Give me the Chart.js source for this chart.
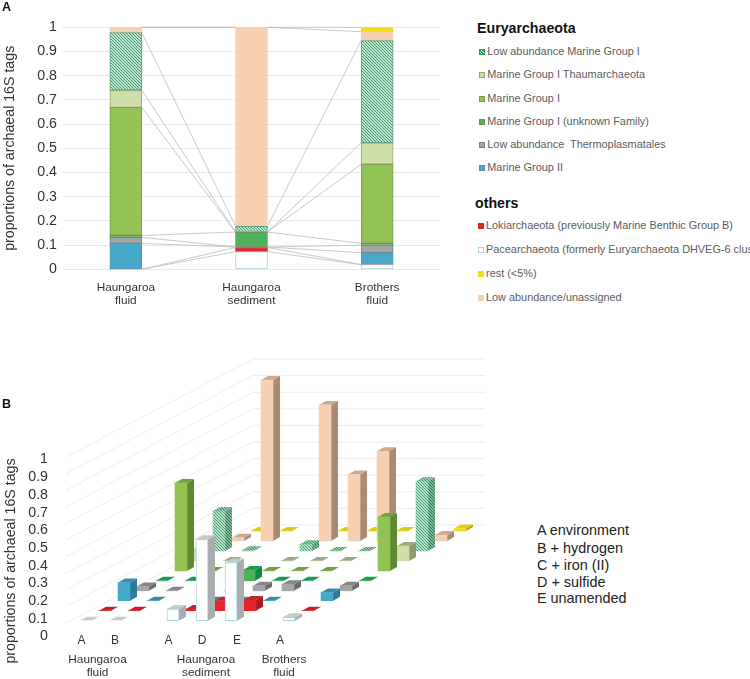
<!DOCTYPE html>
<html><head><meta charset="utf-8">
<style>
html,body{margin:0;padding:0;background:#fff;width:750px;height:679px;overflow:hidden;font-family:"Liberation Sans",Arial,sans-serif}
canvas{position:absolute;display:block}
.t{position:absolute;white-space:pre;line-height:1}
.h{font-weight:bold;font-size:14.2px;color:#111}
.li{font-size:10.9px;color:#5c5c5c}
.sw{position:absolute;width:6px;height:6px;box-sizing:border-box;border:1px solid}
.g{font-size:11.8px;color:#333;text-align:center;line-height:13.8px;transform:translateX(-50%)}
.k{font-size:14.4px;color:#222}
</style></head><body>
<canvas id="a" width="445" height="320" style="left:0;top:0"></canvas>
<canvas id="b" width="500" height="339" style="left:0;top:340px"></canvas>
<div id="ov"></div>
<script src="https://cdn.jsdelivr.net/npm/chart.js@4"></script>
<script>
// ---------- data ----------
const sitesA = [['Haungaroa','fluid'],['Haungaroa','sediment'],['Brothers','fluid']];
const seriesNames = ['Pacearchaeota (formerly Euryarchaeota DHVEG-6 cluster)','Lokiarchaeota (previously Marine Benthic Group B)','Marine Group II','Low abundance  Thermoplasmatales','Marine Group I (unknown Family)','Marine Group I','Marine Group I Thaumarchaeota','Low abundance Marine Group I','Low abundance/unassigned','rest (<5%)'];
// panel A, bottom to top of the stack
const aPace  = [0,    0.073,0.019];
const aLoki  = [0,    0.017,0.001];
const aMG2   = [0.107,0.002,0.049];
const aThermo= [0.025,0,    0.031];
const aUnk   = [0.008,0.062,0.007];
const aMG1   = [0.529,0,    0.327];
const aThaum = [0.071,0,    0.089];
const aLow   = [0.238,0.024,0.422];
const aPeach = [0.022,0.822,0.037];
const aRest  = [0,    0,    0.018];
// panel B: samples, then series front row to back row
const sampleLabels = ['A','B','A','D','E','A'];
const bPace  = [0,0,0.07,0.49,0.35,0.02];
const bLoki  = [0,0,0.01,0.06,0.065,0];
const bMG2   = [0.11,0,0,0,0,0.05];
const bThermo= [0.026,0,0,0.03,0.04,0.03];
const bUnk   = [0,0,0.065,0,0,0];
const bMG1   = [0.53,0,0,0,0,0.325];
const bThaum = [0.075,0,0,0,0,0.09];
const bLow   = [0.24,0.005,0.04,0,0,0.42];
const bPeach = [0.02,0.97,0.82,0.40,0.54,0.036];
const bRest  = [0,0,0,0,0,0.015];
const yTicks = [0,0.1,0.2,0.3,0.4,0.5,0.6,0.7,0.8,0.9,1];
const groupLabels = [['Haungaroa','fluid'],['Haungaroa','sediment'],['Brothers','fluid']];
const sampleNotes = ['A environment','B + hydrogen','C + iron (II)','D + sulfide','E unamended'];

// ---------- styles ----------
function hatch(fg,bg,n,w){
  const c=document.createElement('canvas');c.width=c.height=n;const x=c.getContext('2d');
  x.fillStyle=bg;x.fillRect(0,0,n,n);x.strokeStyle=fg;x.lineWidth=w;x.beginPath();
  x.moveTo(-1,-1);x.lineTo(n+1,n+1);x.moveTo(-1,n-1);x.lineTo(1,n+1);x.moveTo(n-1,-1);x.lineTo(n+1,1);x.stroke();
  return x.createPattern(c,'repeat');
}
const pat = hatch('#3a9e69','#ffffff',3,1.2);
const patB= hatch('#3fa572','#e4f2e8',3,1.1);
const patSide= hatch('#2c7a52','#a9cbb6',3,1.2);
const patTop = hatch('#3a8f63','#bfdcc9',3,1.2);
const front=['#ffffff','#e3262b','#46a9c9','#a6a6a6','#4fb35e','#93c354','#cfdfa9',pat,'#f7d0b2','#f2dc1d'];
const frontB=['#ffffff','#e3262b','#46a9c9','#a6a6a6','#4fb35e','#93c354','#cfdfa9',patB,'#f7d0b2','#f2dc1d'];
const edge=['#a9d5df','#d8262b','#5d93a6','#7b7b7b','#6f9150','#7c9b58','#94a67c','#5c9f7a','#f7d0b2','#f2dc1d'];
const side=['#a9adad','#ad1c20','#2f7a98','#6c6c6c','#0f8a45','#5e8a33','#8e9c70',patSide,'#a98b76','#b5a810'];
const topC=['#c3cccd','#c32227','#3b8aa8','#858585','#149c50','#71a03d','#9aa980',patTop,'#caa98e','#d9cc12'];
const tickFont={family:'"Liberation Sans",Arial,sans-serif',size:14.2};

// ---------- panel A ----------
const aVals=[aPace,aLoki,aMG2,aThermo,aUnk,aMG1,aThaum,aLow,aPeach,aRest];
const seriesLines={id:'seriesLines',afterDatasetsDraw(ch){
  const c=ch.ctx;c.save();c.strokeStyle='#bdbdbd';c.lineWidth=0.8;
  ch.data.datasets.forEach((d,i)=>{const e=ch.getDatasetMeta(i).data;
    for(let k=0;k<e.length-1;k++){c.beginPath();
      c.moveTo(e[k].x+e[k].width/2,e[k].y);c.lineTo(e[k+1].x-e[k+1].width/2,e[k+1].y);c.stroke();}
  });c.restore();}};
new Chart(document.getElementById('a'),{type:'bar',
  data:{labels:sitesA,datasets:aVals.map((v,i)=>({label:seriesNames[i],data:v,backgroundColor:front[i],borderColor:edge[i],
    borderWidth:c=>c.raw?1:0,borderSkipped:false,barThickness:32}))},
  plugins:[seriesLines],
  options:{responsive:false,animation:false,devicePixelRatio:1,
    layout:{padding:{top:27.3,right:5,left:0,bottom:0}},
    plugins:{legend:{display:false},tooltip:{enabled:false}},
    scales:{
      x:{stacked:true,grid:{display:false},border:{display:false},afterFit:s=>{s.height=50.7},
         ticks:{color:'#333',font:{family:tickFont.family,size:11.8,lineHeight:1.12},padding:4,maxRotation:0,autoSkip:false}},
      y:{stacked:true,min:0,max:1,afterFit:s=>{s.width=63},afterBuildTicks:s=>{s.ticks=yTicks.map(v=>({value:v}))},
         grid:{color:'#e9e9e9',drawTicks:false},border:{display:false},
         ticks:{color:'#333',font:tickFont,padding:6,callback:v=>String(v)},
         title:{display:true,text:'proportions of archaeal 16S tags',color:'#333',font:{family:tickFont.family,size:14.2},padding:{top:1.5,bottom:1.5}}}
    }}});

// ---------- panel B ----------
const bVals=[bPace,bLoki,bMG2,bThermo,bUnk,bMG1,bThaum,bLow,bPeach,bRest];
const sampleSlots=[0,1,3,4,5,7];           // horizontal slot of each sample on the x axis
const labelNudge=[-4.5,0,-4.5,0,6,-9];     // px shift of the axis letters
const SLOT=29, ROWX=19/SLOT, ROWY=0.06, ROW0=0.014, DX=7, DY=4;
const floor3d={id:'floor3d',
  beforeDatasetsDraw(ch){
    const c=ch.ctx,X=ch.scales.x,Y=ch.scales.y;c.save();c.strokeStyle='#ededed';c.lineWidth=1;
    const x0=X.getPixelForValue(-20/SLOT),x1=X.getPixelForValue(-20/SLOT+187/SLOT),x2=X.getPixelForValue(399/SLOT);
    yTicks.forEach(v=>{const y=Y.getPixelForValue(v),dy=Y.getPixelForValue(v+98/166)-y;
      c.beginPath();c.moveTo(x0,y);c.lineTo(x1,y+dy);c.lineTo(x2,y+dy);c.stroke();});
    c.restore();},
  beforeDatasetDraw(ch,args){
    const c=ch.ctx,i=args.index;
    args.meta.data.forEach(b=>{
      const l=b.x-b.width/2,r=b.x+b.width/2,t=Math.min(b.y,b.base),bo=Math.max(b.y,b.base);
      c.fillStyle=side[i];c.beginPath();c.moveTo(r,t);c.lineTo(r+DX,t-DY);c.lineTo(r+DX,bo-DY);c.lineTo(r,bo);c.closePath();c.fill();
      c.fillStyle=topC[i];c.beginPath();c.moveTo(l,t);c.lineTo(l+DX,t-DY);c.lineTo(r+DX,t-DY);c.lineTo(r,t);c.closePath();c.fill();
    });}};
new Chart(document.getElementById('b'),{type:'bar',
  data:{datasets:bVals.map((v,row)=>({label:seriesNames[row],clip:false,
    data:v.map((h,s)=>({x:sampleSlots[s]+row*ROWX,y:[ROW0+row*ROWY,ROW0+row*ROWY+h]})),
    backgroundColor:frontB[row],borderColor:edge[row],
    borderWidth:c=>(v[c.dataIndex]>0&&row===0)?1:0,borderSkipped:false,barThickness:12,grouped:false}))},
  plugins:[floor3d],
  options:{responsive:false,animation:false,devicePixelRatio:1,
    layout:{padding:{top:15,right:10,left:0,bottom:0}},
    plugins:{legend:{display:false},tooltip:{enabled:false}},
    scales:{
      x:{type:'linear',offset:false,min:-26/SLOT,max:404/SLOT,grid:{display:false,drawTicks:false},border:{display:false},
         afterFit:s=>{s.height=47},
         afterBuildTicks:s=>{s.ticks=sampleSlots.map((p,i)=>({value:p+labelNudge[i]/SLOT}))},
         afterTickToLabelConversion:s=>{s.ticks.forEach((t,i)=>{t.label=sampleLabels[i]})},
         ticks:{color:'#333',font:{family:tickFont.family,size:12},padding:1,maxRotation:0,autoSkip:false,display:true,stepSize:1}},
      y:{display:false,position:'left',min:(623-632)/166,max:(623-355)/166},
      yt:{position:'left',min:(636.5-632)/177,max:(636.5-355)/177,afterFit:s=>{s.width=60},
         afterBuildTicks:s=>{s.ticks=yTicks.map(v=>({value:v}))},
         grid:{display:false},border:{display:false},
         ticks:{color:'#333',font:tickFont,padding:4,callback:v=>String(v)}}
    }}});

// ---------- text around the charts ----------
const ov=document.getElementById('ov');
function txt(cls,x,y,s,extra){const d=document.createElement('div');d.className='t '+cls;d.style.left=x+'px';d.style.top=y+'px';d.textContent=s;if(extra)Object.assign(d.style,extra);ov.appendChild(d);return d;}
txt('h',2,1,'A',{fontSize:'12.5px'});
txt('h',2,398,'B',{fontSize:'12.5px'});
txt('h',477,21,'Euryarchaeota');
txt('h',475,195.5,'others');
const legendTop=[7,6,5,4,3,2], legendTopY=[52,75,98.5,122,145,168];
const legendOth=[1,0,9,8], legendOthY=[225.5,250,274,298];
function legendRow(i,sx,tx,y){
  const s=document.createElement('div');s.className='sw';s.style.left=sx+'px';s.style.top=(y-3)+'px';
  s.style.borderColor=i===0?'#a9d5df':(i===7?'#2f9a62':edge[i]);
  s.style.background=i===7?'repeating-linear-gradient(45deg,#2f9a62 0 1px,#fff 1px 2px)':front[i];ov.appendChild(s);
  txt('li',tx,y-6,seriesNames[i]);
}
legendTop.forEach((i,k)=>legendRow(i,479,487.3,legendTopY[k]));
legendOth.forEach((i,k)=>legendRow(i,477.5,486,legendOthY[k]));
const gx=[97.5,206,284];
groupLabels.forEach((g,i)=>{const d=txt('g',gx[i],652.5,'');d.innerHTML=g.join('<br>');});
const ky=[530,548,565,582,598];
sampleNotes.forEach((s,i)=>txt('k',537,ky[i]-7,s));
txt('',0,0,'proportions of archaeal 16S tags',{fontSize:'14.2px',color:'#333',left:'9.5px',top:'561px',transform:'translate(-50%,-50%) rotate(-90deg)'});
</script>
</body></html>
